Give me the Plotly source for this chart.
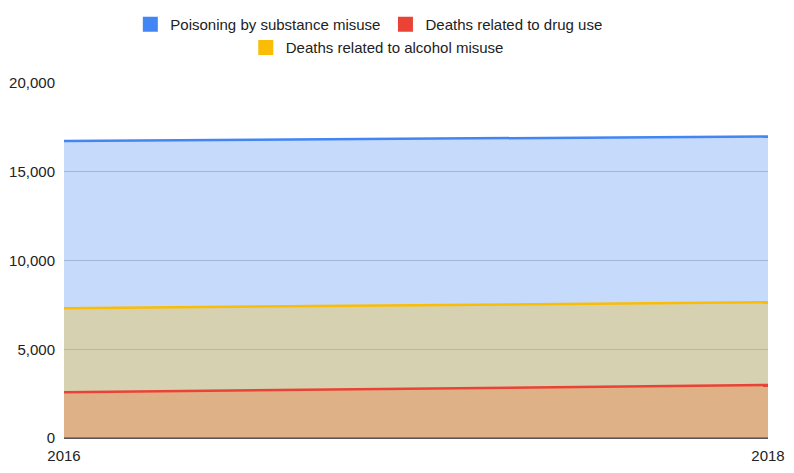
import plotly.graph_objects as go

years = [2016, 2018]
poisoning = [16730, 16990]
drug_deaths = [2575, 2990]
alcohol_deaths = [7310, 7650]
series_names = ["Poisoning by substance misuse", "Deaths related to drug use", "Deaths related to alcohol misuse"]
y_ticks = [0, 5000, 10000, 15000, 20000]
y_tick_labels = ["0", "5,000", "10,000", "15,000", "20,000"]

colors = ["#4285f4", "#ea4335", "#fbbc04"]
fills = ["rgba(66,133,244,0.3)", "rgba(234,67,53,0.3)", "rgba(251,188,4,0.3)"]
all_vals = [poisoning, drug_deaths, alcohol_deaths]

fig = go.Figure()
# fills first
for name, vals, f in zip(series_names, all_vals, fills):
    fig.add_trace(go.Scatter(x=years, y=vals, mode="lines", fill="tozeroy", fillcolor=f,
                             line=dict(width=0, color=f), name=name, showlegend=False,
                             hoverinfo="skip"))
# lines on top
for name, vals, c in zip(series_names, all_vals, colors):
    fig.add_trace(go.Scatter(x=years, y=vals, mode="lines",
                             line=dict(color=c, width=2.5), name=name, showlegend=False))

# legend entries
legend_ids = ["legend", "legend", "legend2"]
for name, c, lg in zip(series_names, colors, legend_ids):
    fig.add_trace(go.Scatter(x=[None], y=[None], mode="markers", name=name,
                             marker=dict(symbol="square", size=15, color=c),
                             legend=lg, showlegend=True))

fig.update_layout(
    width=794, height=473,
    margin=dict(l=64, r=26, t=83, b=35, autoexpand=False),
    paper_bgcolor="white", plot_bgcolor="white",
    font=dict(family="Liberation Sans, Arial, sans-serif", size=15, color="#222"),
    legend=dict(orientation="h", x=0.433, xanchor="center", y=0.948, yref="container",
                yanchor="middle",
                font=dict(size=15, color="#222"), itemwidth=30, tracegroupgap=0,
                bgcolor="rgba(0,0,0,0)"),
    legend2=dict(orientation="h", x=0.445, xanchor="center", y=0.899, yref="container",
                 yanchor="middle",
                 font=dict(size=15, color="#222"), itemwidth=30,
                 bgcolor="rgba(0,0,0,0)"),
    xaxis=dict(range=[2016, 2018], tickvals=years, ticktext=[str(y) for y in years],
               showgrid=False, zeroline=False, showline=False, ticks="",
               ticklabelstandoff=7,
               tickfont=dict(size=15, color="#222"), automargin=False),
    yaxis=dict(range=[0, 20000], tickvals=y_ticks, ticktext=y_tick_labels,
               showgrid=True, gridcolor="#cccccc", gridwidth=1,
               zeroline=True, zerolinecolor="#555555", zerolinewidth=1.5,
               showline=False, ticks="", ticklabelstandoff=8,
               tickfont=dict(size=15, color="#222"),
               automargin=False),
)

fig.write_html("out.html", config={"displayModeBar": False},
               post_script="document.body.style.margin='0';document.body.style.overflow='hidden';")
